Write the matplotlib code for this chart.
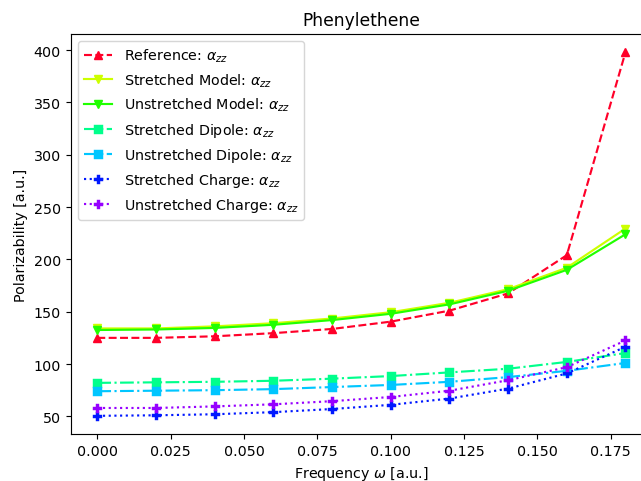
import matplotlib
matplotlib.use("Agg")
import matplotlib.pyplot as plt
import numpy as np

# frequencies (a.u.)
freq = [0.00, 0.02, 0.04, 0.06, 0.08, 0.10, 0.12, 0.14, 0.16, 0.18]

# alpha_zz for each model
ref_zz = [125, 125, 126.5, 129.5, 133.5, 140.5, 151, 167.5, 204, 398]
str_model_zz = [134, 134, 136, 139, 143.5, 149.5, 158.5, 171.5, 192, 229.5]
unstr_model_zz = [132.5, 133, 134.5, 137.5, 142, 148, 157, 170, 190, 224]
str_dipole_zz = [82, 82.5, 83, 84, 86, 88.5, 92, 95.5, 102, 110.5]
unstr_dipole_zz = [74, 74.5, 75, 76, 78, 80, 83, 87.5, 93.5, 101]
str_charge_zz = [50.5, 51, 52, 54, 57, 61, 67, 76.5, 91, 116.5]
unstr_charge_zz = [58, 58, 59.5, 61.5, 64.5, 68.5, 74.5, 84.5, 97, 122.5]

series = [
    ("Reference", ref_zz, "--", "^"),
    ("Stretched Model", str_model_zz, "-", "v"),
    ("Unstretched Model", unstr_model_zz, "-", "v"),
    ("Stretched Dipole", str_dipole_zz, "-.", "s"),
    ("Unstretched Dipole", unstr_dipole_zz, "-.", "s"),
    ("Stretched Charge", str_charge_zz, ":", "P"),
    ("Unstretched Charge", unstr_charge_zz, ":", "P"),
]
colors = plt.cm.gist_rainbow([0.0, 0.25, 0.375, 0.5, 0.625, 0.75, 0.875])

DPI = 103
fig = plt.figure(figsize=(641 / DPI, 482 / DPI), dpi=DPI)
ax = fig.add_axes([0.1106, 0.0975, 0.9064, 0.8299])

for (name, vals, ls, mk), col in zip(series, colors):
    ax.plot(freq, vals, linestyle=ls, marker=mk, color=col,
            label=name + r": $\alpha_{zz}$")

ax.set_xticks(np.arange(0, 0.176, 0.025))
ax.set_title("Phenylethene")
ax.set_xlabel(r"Frequency $\omega$ [a.u.]")
ax.set_ylabel("Polarizability [a.u.]")
ax.legend(loc="upper left")

fig.savefig("out.png", dpi=DPI)
